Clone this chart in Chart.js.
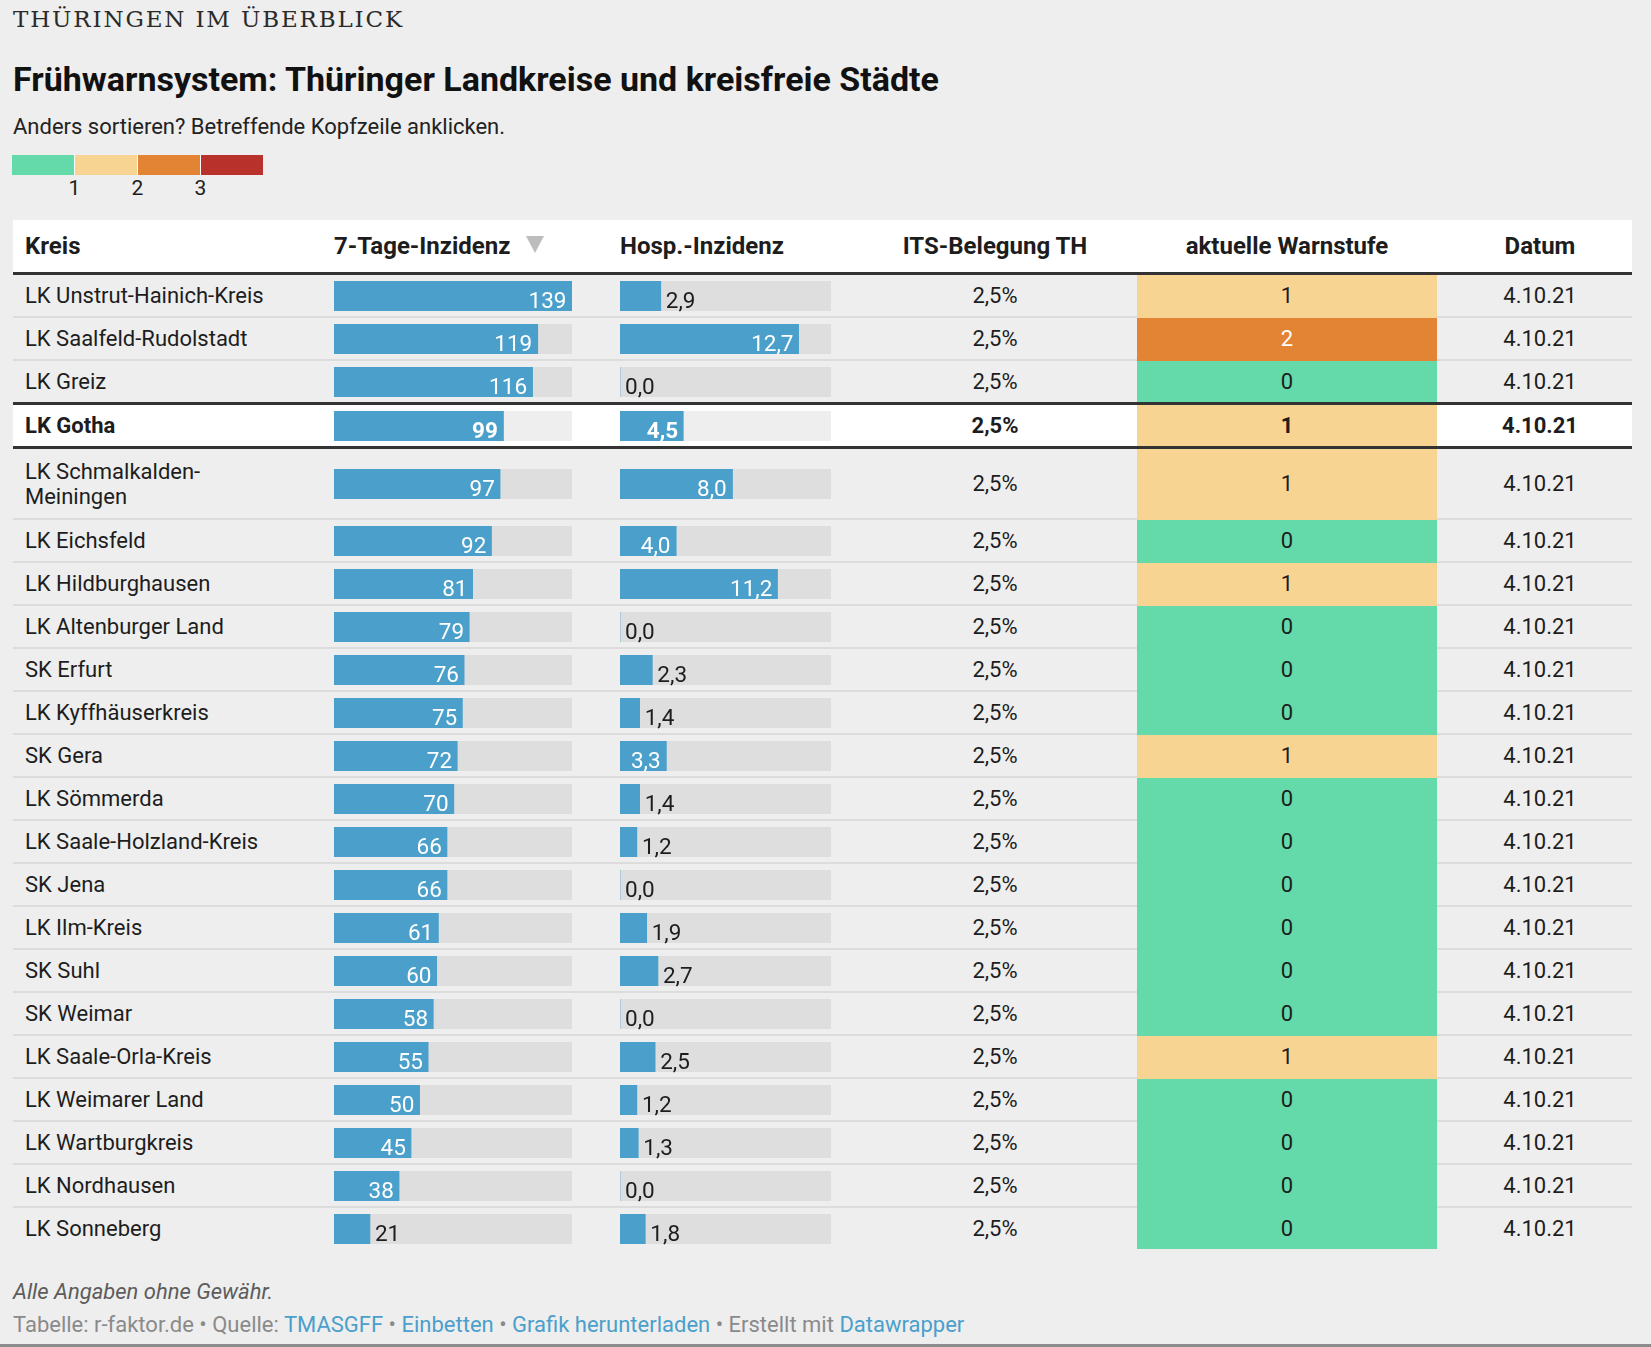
<!DOCTYPE html>
<html lang="de">
<head>
<meta charset="utf-8">
<title>Frühwarnsystem Thüringen</title>
<script src="https://cdn.jsdelivr.net/npm/chart.js@4.4.1/dist/chart.umd.min.js"></script>
<style>
html,body{margin:0;padding:0;background:#eeeeee;}
body{width:1651px;height:1347px;position:relative;overflow:hidden;font-family:Roboto,"Noto Sans",sans-serif;color:#1d1d1d;}
#kicker{position:absolute;left:13px;top:5px;font-family:"DejaVu Serif",serif;font-size:23px;line-height:28px;letter-spacing:1.85px;color:#2a2a2a;white-space:nowrap;}
#title{position:absolute;left:13px;top:59px;font-size:34px;line-height:40px;font-weight:700;color:#111;white-space:nowrap;}
#subtitle{position:absolute;left:13px;top:114px;font-size:22px;line-height:26px;color:#222;white-space:nowrap;}
#legend{position:absolute;left:12px;top:155px;height:20px;display:flex;}
#legend .seg{height:20px;box-sizing:border-box;}
#legendTicks{position:absolute;left:0;top:175px;height:26px;}
#legendTicks span{position:absolute;font-size:21px;line-height:26px;transform:translateX(-50%);color:#1d1d1d;}
#table{position:absolute;left:13px;top:220px;width:1619px;}
.hrow{display:flex;height:52px;background:#fff;border-bottom:3px solid #333;font-weight:700;}
.hrow .cell{min-height:0;border:none;font-size:24px;}
.row{display:flex;position:relative;}
.cell{display:flex;align-items:center;box-sizing:border-box;min-height:43px;border-bottom:2px solid #dcdcdc;font-size:22px;line-height:25px;}
.c1{width:321px;padding-left:12px;padding-right:54px;}
.c2{width:286px;}
.c3{width:233px;}
.c4{width:284px;justify-content:center;}
.c5{width:300px;justify-content:center;}
.c6{width:195px;padding-left:11px;justify-content:center;}
.row .c5{border-bottom-color:transparent;}
.row.nob .cell{border-bottom:none;min-height:41px;}
.row.hl{background:#fff;border-top:3px solid #333;border-bottom:3px solid #333;font-weight:700;}
.barwrap{position:relative;width:238px;height:30px;}
.c3 .barwrap{width:211px;}
.barwrap canvas{position:absolute;left:0;top:0;}
.lbl{position:absolute;top:4px;font-size:22.5px;line-height:30px;white-space:nowrap;}
.tri{display:inline-block;width:0;height:0;border-left:9px solid transparent;border-right:9px solid transparent;border-top:17px solid #bdbdbd;margin-left:16px;position:relative;top:-2px;}
#note{position:absolute;left:13px;top:1280px;font-size:22px;line-height:24px;font-style:italic;color:#5c5c5c;white-space:nowrap;}
#source{position:absolute;left:13px;top:1313px;font-size:22px;line-height:24px;color:#8a8a8a;white-space:nowrap;}
#source a{color:#4a9fcb;text-decoration:none;}
#bottomline{position:absolute;left:0;top:1344px;width:1651px;height:3px;background:#8c8c8c;}
</style>
</head>
<body>
<div id="kicker">THÜRINGEN IM ÜBERBLICK</div>
<div id="title">Frühwarnsystem: Thüringer Landkreise und kreisfreie Städte</div>
<div id="subtitle">Anders sortieren? Betreffende Kopfzeile anklicken.</div>
<div id="legend"></div>
<div id="legendTicks"></div>
<div id="table"></div>
<div id="note">Alle Angaben ohne Gewähr.</div>
<div id="source">Tabelle: r-faktor.de • Quelle: <a>TMASGFF</a> • <a>Einbetten</a> • <a>Grafik herunterladen</a> • Erstellt mit <a>Datawrapper</a></div>
<div id="bottomline"></div>
<script>
// ---- data ----
const columns = ['Kreis', '7-Tage-Inzidenz', 'Hosp.-Inzidenz', 'ITS-Belegung TH', 'aktuelle Warnstufe', 'Datum'];
const kreise = [
  'LK Unstrut-Hainich-Kreis', 'LK Saalfeld-Rudolstadt', 'LK Greiz', 'LK Gotha',
  'LK Schmalkalden-Meiningen', 'LK Eichsfeld', 'LK Hildburghausen', 'LK Altenburger Land',
  'SK Erfurt', 'LK Kyffhäuserkreis', 'SK Gera', 'LK Sömmerda', 'LK Saale-Holzland-Kreis',
  'SK Jena', 'LK Ilm-Kreis', 'SK Suhl', 'SK Weimar', 'LK Saale-Orla-Kreis',
  'LK Weimarer Land', 'LK Wartburgkreis', 'LK Nordhausen', 'LK Sonneberg'
];
const inzidenz = [139, 119, 116, 99, 97, 92, 81, 79, 76, 75, 72, 70, 66, 66, 61, 60, 58, 55, 50, 45, 38, 21];
const hospInzidenz = [2.9, 12.7, 0.0, 4.5, 8.0, 4.0, 11.2, 0.0, 2.3, 1.4, 3.3, 1.4, 1.2, 0.0, 1.9, 2.7, 0.0, 2.5, 1.2, 1.3, 0.0, 1.8];
const itsBelegung = [2.5, 2.5, 2.5, 2.5, 2.5, 2.5, 2.5, 2.5, 2.5, 2.5, 2.5, 2.5, 2.5, 2.5, 2.5, 2.5, 2.5, 2.5, 2.5, 2.5, 2.5, 2.5];
const warnstufe = [1, 2, 0, 1, 1, 0, 1, 0, 0, 0, 1, 0, 0, 0, 0, 0, 0, 1, 0, 0, 0, 0];
const datum = ['4.10.21', '4.10.21', '4.10.21', '4.10.21', '4.10.21', '4.10.21', '4.10.21', '4.10.21',
  '4.10.21', '4.10.21', '4.10.21', '4.10.21', '4.10.21', '4.10.21', '4.10.21', '4.10.21',
  '4.10.21', '4.10.21', '4.10.21', '4.10.21', '4.10.21', '4.10.21'];
const highlighted = 'LK Gotha';
const warnColors = ['#64d9a9', '#f7d491', '#e38434', '#b8312a'];
const legendTicks = ['1', '2', '3'];
const inzidenzMax = 139;
const hospMax = 15;

// ---- styles ----
const BAR_BLUE = '#4ba0cb';
const fmt1 = v => v.toFixed(1).replace('.', ',');

// legend
const legend = document.getElementById('legend');
warnColors.forEach((c, i) => {
  const s = document.createElement('div');
  s.className = 'seg';
  s.style.width = (i === 0 ? 62 : 63) + 'px';
  s.style.background = c;
  if (i > 0) s.style.borderLeft = '1px solid #ffffff';
  legend.appendChild(s);
});
const lt = document.getElementById('legendTicks');
legendTicks.forEach((t, i) => {
  const sp = document.createElement('span');
  sp.textContent = t;
  sp.style.left = (12 + 62.5 + i * 63) + 'px';
  lt.appendChild(sp);
});

const trackPlugin = {
  id: 'track',
  beforeDatasetsDraw(chart) {
    const { ctx, chartArea: a } = chart;
    ctx.save();
    ctx.fillStyle = 'rgba(0,0,0,0.068)';
    ctx.fillRect(a.left, a.top, a.right - a.left, a.bottom - a.top);
    ctx.restore();
  }
};

function miniBar(wrap, label, value, max, text, bold) {
  const w = wrap.clientWidth, h = 30;
  const cv = document.createElement('canvas');
  cv.width = w; cv.height = h;
  cv.style.width = w + 'px'; cv.style.height = h + 'px';
  wrap.appendChild(cv);
  const chart = new Chart(cv, {
    type: 'bar',
    data: { labels: [label], datasets: [{ data: [value], backgroundColor: BAR_BLUE, borderWidth: 0, barPercentage: 1, categoryPercentage: 1 }] },
    options: {
      indexAxis: 'y', responsive: false, animation: false, events: [],
      devicePixelRatio: window.devicePixelRatio || 1,
      layout: { padding: 0 },
      plugins: { legend: { display: false }, tooltip: { enabled: false } },
      scales: { x: { display: false, min: 0, max: max }, y: { display: false } }
    },
    plugins: [trackPlugin]
  });
  const el = chart.getDatasetMeta(0).data[0];
  const end = el.x, base = el.base;
  const lab = document.createElement('span');
  lab.className = 'lbl';
  lab.textContent = text;
  if (bold) lab.style.fontWeight = '700';
  wrap.appendChild(lab);
  const lw = lab.offsetWidth;
  if (end - base >= lw + 14) {
    lab.style.left = (end - 5.5 - lw) + 'px';
    lab.style.color = '#ffffff';
  } else {
    lab.style.left = (end + 5) + 'px';
    lab.style.color = '#1d1d1d';
  }
}

function build() {
  const table = document.getElementById('table');
  // header
  const hr = document.createElement('div');
  hr.className = 'hrow';
  columns.forEach((c, i) => {
    const d = document.createElement('div');
    d.className = 'cell c' + (i + 1);
    d.textContent = c;
    if (i === 1) {
      const t = document.createElement('span');
      t.className = 'tri';
      d.appendChild(t);
    }
    hr.appendChild(d);
  });
  table.appendChild(hr);

  const hlIndex = kreise.indexOf(highlighted);
  kreise.forEach((k, r) => {
    const row = document.createElement('div');
    row.className = 'row';
    const isHl = r === hlIndex;
    if (isHl) row.classList.add('hl', 'nob');
    if (r === hlIndex - 1 || r === kreise.length - 1) row.classList.add('nob');
    // Kreis
    const c1 = document.createElement('div');
    c1.className = 'cell c1';
    const sp = document.createElement('span');
    sp.textContent = k;
    c1.appendChild(sp);
    row.appendChild(c1);
    // 7-Tage-Inzidenz
    const c2 = document.createElement('div');
    c2.className = 'cell c2';
    const w2 = document.createElement('div'); w2.className = 'barwrap';
    c2.appendChild(w2); row.appendChild(c2);
    // Hosp
    const c3 = document.createElement('div');
    c3.className = 'cell c3';
    const w3 = document.createElement('div'); w3.className = 'barwrap';
    c3.appendChild(w3); row.appendChild(c3);
    // ITS
    const c4 = document.createElement('div');
    c4.className = 'cell c4';
    c4.textContent = fmt1(itsBelegung[r]) + '%';
    row.appendChild(c4);
    // Warnstufe
    const c5 = document.createElement('div');
    c5.className = 'cell c5';
    c5.textContent = String(warnstufe[r]);
    c5.style.background = warnColors[warnstufe[r]];
    if (warnstufe[r] >= 2) c5.style.color = '#ffffff';
    row.appendChild(c5);
    // Datum
    const c6 = document.createElement('div');
    c6.className = 'cell c6';
    c6.textContent = datum[r];
    row.appendChild(c6);

    table.appendChild(row);
    if (sp.offsetHeight > 30) {
      c1.style.paddingTop = '9.5px';
      c1.style.paddingBottom = '9.5px';
    }
    miniBar(w2, k, inzidenz[r], inzidenzMax, String(inzidenz[r]), isHl);
    miniBar(w3, k, hospInzidenz[r], hospMax, fmt1(hospInzidenz[r]), isHl);
  });
}
if (document.fonts && document.fonts.load) {
  document.fonts.load('22px Roboto').then(build, build);
} else {
  build();
}
</script>
</body>
</html>
